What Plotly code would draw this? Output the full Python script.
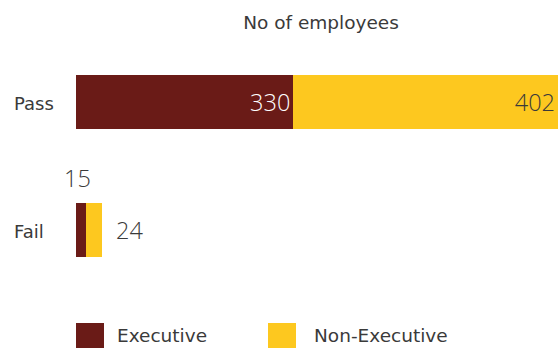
import plotly.graph_objects as go

# Employee counts by result and staff group
results = ["Fail", "Pass"]
series_names = ["Executive", "Non-Executive"]
executive = [15, 330]
non_executive = [24, 402]
colors = ["#6A1B17", "#FDC81F"]

LABEL_FONT = "DejaVu Sans"
NUM_FONT = "Open Sans"
TEXT = "#3a3a3a"

W, H = 558, 348
L, R, T, B = 76, 0, 38, 54
plot_h = H - T - B

fig = go.Figure()
for name, vals, col, txtcol in zip(series_names, [executive, non_executive], colors, ["#ffffff", TEXT]):
    # only the Pass row carries an inside label; Fail labels sit outside the thin bar
    labels = [None if r == "Fail" else str(v) for r, v in zip(results, vals)]
    fig.add_trace(go.Bar(
        y=results, x=vals, name=name, orientation="h",
        marker=dict(color=col, line=dict(width=0)),
        width=0.42,
        text=labels, textposition="inside", insidetextanchor="end",
        constraintext="none",
        textfont=dict(family=NUM_FONT, size=23.5, color=txtcol, weight=300),
        showlegend=False, hoverinfo="x+name",
    ))

# Fail row labels
num_font = dict(family=NUM_FONT, size=23.5, color=TEXT, weight=300)
fig.add_annotation(x=executive[0] / 2, y="Fail", text=str(executive[0]),
                   showarrow=False, yshift=52, xshift=-3, font=num_font)
fig.add_annotation(x=executive[0] + non_executive[0], y="Fail", text=str(non_executive[0]),
                   showarrow=False, xanchor="left", xshift=12, font=num_font)

def px_x(p):
    return (p - L) / (W - L - R)

def px_y(p):
    return (H - B - p) / plot_h

# Left-aligned category labels
for r in results:
    fig.add_annotation(xref="paper", yref="y", x=px_x(12), y=r, text=r,
                       showarrow=False, xanchor="left", yshift=-1,
                       font=dict(family=LABEL_FONT, size=18, color=TEXT))

# Legend drawn with large square swatches
legend_items = [(series_names[0], colors[0], 76, 115), (series_names[1], colors[1], 268, 312)]
for name, col, sx, tx in legend_items:
    fig.add_shape(type="rect", xref="paper", yref="paper",
                  x0=px_x(sx), x1=px_x(sx + 28), y0=px_y(323), y1=px_y(352),
                  fillcolor=col, line=dict(width=0))
    fig.add_annotation(xref="paper", yref="paper", x=px_x(tx), y=px_y(348),
                       text=name, showarrow=False, xanchor="left", yanchor="bottom",
                       font=dict(family=LABEL_FONT, size=18.5, color=TEXT))

fig.update_layout(
    width=W, height=H,
    margin=dict(l=L, r=R, t=T, b=B),
    barmode="stack",
    paper_bgcolor="white", plot_bgcolor="white",
    title=dict(text="No of employees", xref="container", yref="container",
               x=321 / W, xanchor="center", y=1 - 23 / H, yanchor="middle",
               font=dict(family=LABEL_FONT, size=18.5, color=TEXT)),
    xaxis=dict(range=[0, sum([executive[1], non_executive[1]])], visible=False, fixedrange=True),
    yaxis=dict(type="category", categoryorder="array", categoryarray=results,
               range=[-0.5, 1.5], showgrid=False, zeroline=False, showline=False,
               ticks="", showticklabels=False),
    font=dict(family=LABEL_FONT, color=TEXT),
)

fig.write_html("out.html")
